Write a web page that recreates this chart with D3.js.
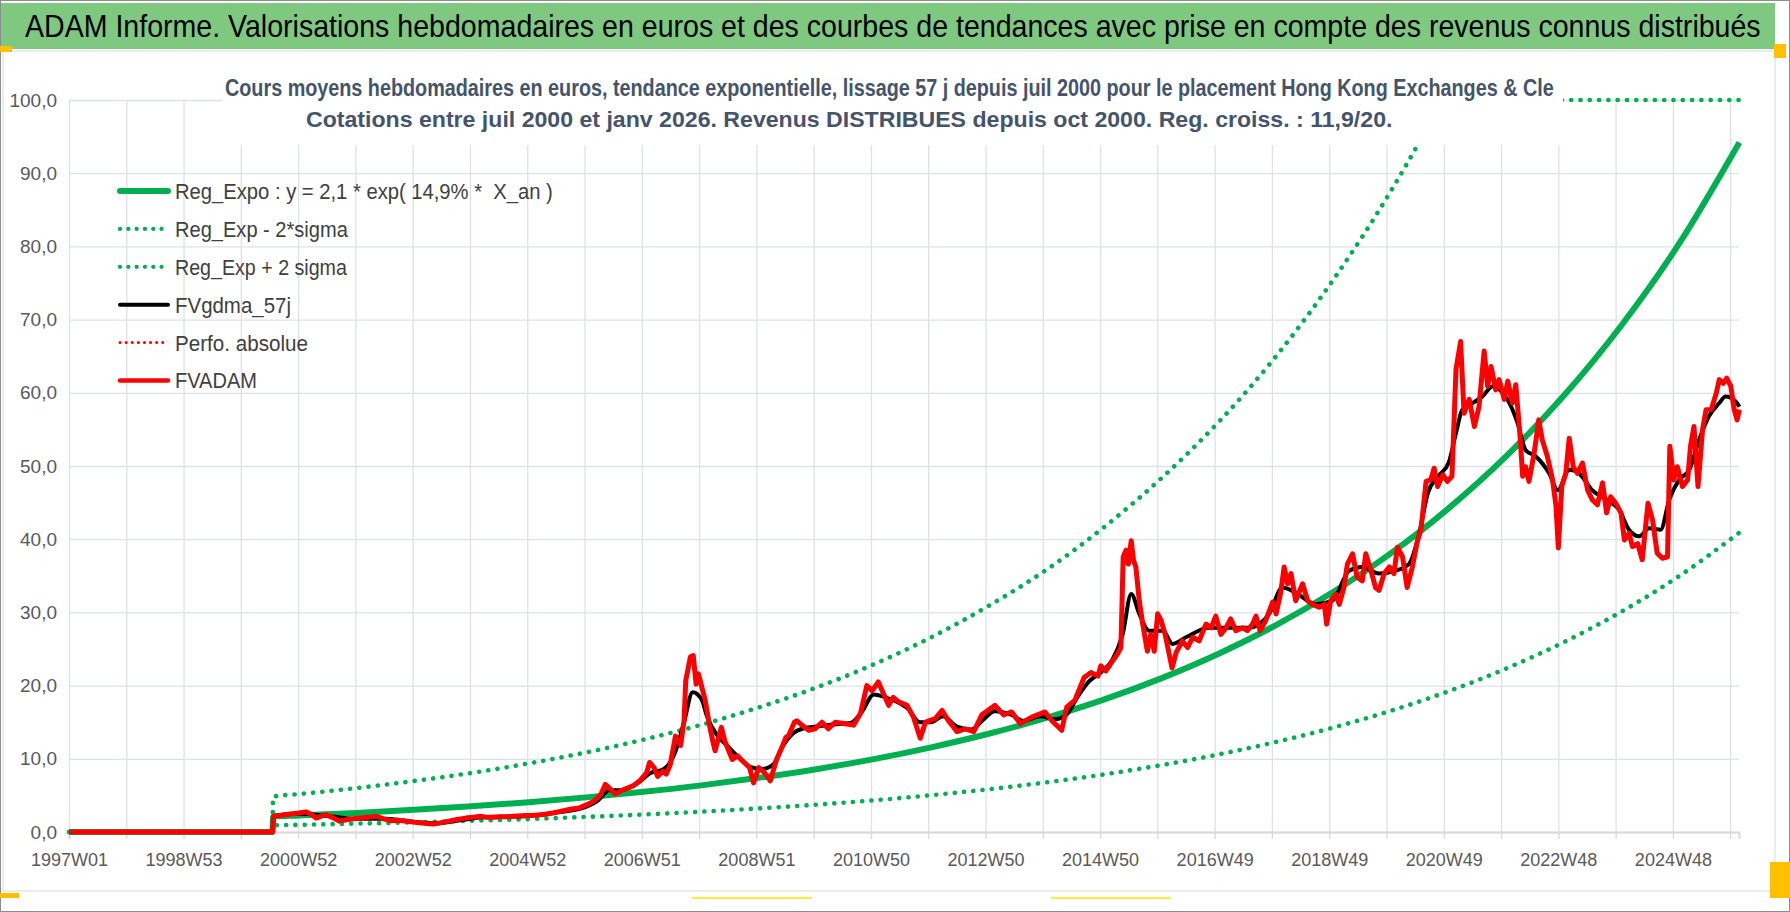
<!DOCTYPE html>
<html>
<head>
<meta charset="utf-8">
<script src="https://cdn.jsdelivr.net/npm/d3@7"></script>
<style>
  body { margin: 0; background: #fff; }
  text { font-family: "Liberation Sans", Arial, sans-serif; }
</style>
</head>
<body>
<svg id="chart"></svg>
<script>
let width = 1790
let height = 912

let titleText = "ADAM Informe. Valorisations hebdomadaires en euros et des courbes de tendances avec prise en compte des revenus connus distribués"
let subtitleLines = [
  "Cours moyens hebdomadaires en euros, tendance exponentielle, lissage 57 j depuis juil 2000 pour le placement Hong Kong Exchanges & Cle",
  "Cotations entre juil 2000 et janv 2026. Revenus DISTRIBUES depuis oct 2000. Reg. croiss. : 11,9/20."
]

// x categories : one tick every 52 weeks, one label every 104 weeks
let xTickLabels = ["1997W01", "1998W53", "2000W52", "2002W52", "2004W52", "2006W51", "2008W51",
  "2010W50", "2012W50", "2014W50", "2016W49", "2018W49", "2020W49", "2022W48", "2024W48"]
let nWeeks = 1517
let yTicks = [0, 10, 20, 30, 40, 50, 60, 70, 80, 90, 100]

let legendNames = ["Reg_Expo : y = 2,1 * exp( 14,9% *  X_an )", "Reg_Exp - 2*sigma", "Reg_Exp + 2 sigma",
  "FVgdma_57j", "Perfo. absolue", "FVADAM"]

// regression + bands (decimal years)
let regYears = [1997, 2000.54, 2000.55, 2001, 2002, 2003, 2004, 2005, 2006, 2007, 2008, 2009, 2010, 2011, 2012,
  2013, 2014, 2015, 2016, 2017, 2018, 2019, 2020, 2021, 2022, 2023, 2024, 2025, 2026.06]
let regValues = [0, 0, 2.1, 2.25, 2.61, 3.03, 3.51, 4.08, 4.73, 5.49, 6.37, 7.4, 8.58, 9.96, 11.57,
  13.42, 15.58, 18.08, 20.99, 24.36, 28.27, 32.82, 38.09, 44.21, 51.31, 59.56, 69.13, 80.23, 94.2]
let lowValues = [0, 0, 0.91, 0.98, 1.14, 1.32, 1.53, 1.77, 2.06, 2.39, 2.77, 3.22, 3.73, 4.33, 5.03,
  5.84, 6.78, 7.86, 9.13, 10.6, 12.3, 14.28, 16.57, 19.23, 22.32, 25.91, 30.07, 34.9, 40.9]
let highYears = [1997, 2000.54, 2000.55, 2001, 2002, 2003, 2004, 2005, 2006, 2007, 2008, 2009, 2010, 2011, 2012,
  2013, 2014, 2015, 2016, 2017, 2018, 2019, 2020, 2020.5, 2020.88, 2026.06]
let highValues = [0, 0, 4.83, 5.18, 6.0, 6.97, 8.07, 9.38, 10.88, 12.63, 14.65, 17.02, 19.73, 22.9, 26.6,
  30.9, 35.8, 41.6, 48.3, 56.0, 65.0, 75.5, 87.6, 94.4, 100, 100]

// FVADAM (red)
let fvYears = [1997, 2000.54, 2000.56, 2000.7, 2000.85, 2001.0, 2001.12, 2001.22, 2001.3, 2001.4, 2001.46, 2001.58,
  2001.7, 2001.86, 2002.05, 2002.2, 2002.35, 2002.47, 2002.6, 2002.72, 2002.85, 2002.98, 2003.1, 2003.22, 2003.34,
  2003.46, 2003.59, 2003.75, 2003.9, 2004.02, 2004.15, 2004.28, 2004.4, 2004.52, 2004.64, 2004.8, 2004.95, 2005.1,
  2005.26, 2005.42, 2005.57, 2005.72, 2005.88, 2006.0, 2006.13, 2006.25, 2006.33, 2006.4, 2006.5, 2006.62, 2006.81,
  2006.93, 2007.05, 2007.1, 2007.18, 2007.24, 2007.33, 2007.39, 2007.46, 2007.55, 2007.64, 2007.7, 2007.73, 2007.81,
  2007.86, 2007.91, 2007.95, 2008.01, 2008.07, 2008.14, 2008.2, 2008.24, 2008.35, 2008.41, 2008.54, 2008.63, 2008.72,
  2008.84, 2008.91, 2009.0, 2009.1, 2009.2, 2009.31, 2009.4, 2009.47, 2009.52, 2009.62, 2009.66, 2009.75, 2009.87,
  2009.98, 2010.1, 2010.21, 2010.33, 2010.5, 2010.65, 2010.77, 2010.88, 2010.97, 2011.08, 2011.17, 2011.26, 2011.34,
  2011.43, 2011.58, 2011.69, 2011.81, 2011.9, 2012.07, 2012.19, 2012.3, 2012.45, 2012.59, 2012.74, 2012.88, 2013.11,
  2013.26, 2013.4, 2013.55, 2013.75, 2013.98, 2014.1, 2014.27, 2014.36, 2014.5, 2014.66, 2014.78, 2014.9, 2014.95,
  2015.04, 2015.16, 2015.24, 2015.3, 2015.34, 2015.39, 2015.43, 2015.48, 2015.52, 2015.56, 2015.62, 2015.68, 2015.76,
  2015.82, 2015.88, 2015.94, 2016.0, 2016.07, 2016.14, 2016.19, 2016.26, 2016.37, 2016.46, 2016.55, 2016.66, 2016.78,
  2016.87, 2016.95, 2017.04, 2017.13, 2017.21, 2017.3, 2017.42, 2017.5, 2017.59, 2017.65, 2017.72, 2017.82, 2017.94,
  2018.0, 2018.08, 2018.14, 2018.2, 2018.26, 2018.34, 2018.46, 2018.55, 2018.63, 2018.75, 2018.84, 2018.88, 2018.95,
  2019.04, 2019.1, 2019.18, 2019.24, 2019.33, 2019.41, 2019.5, 2019.56, 2019.65, 2019.73, 2019.79, 2019.88, 2019.97,
  2020.05, 2020.11, 2020.2, 2020.28, 2020.37, 2020.46, 2020.52, 2020.61, 2020.69, 2020.75, 2020.81, 2020.9, 2020.98,
  2021.06, 2021.13, 2021.21, 2021.27, 2021.36, 2021.45, 2021.53, 2021.62, 2021.68, 2021.74, 2021.82, 2021.88, 2021.97,
  2022.03, 2022.11, 2022.17, 2022.24, 2022.29, 2022.34, 2022.4, 2022.49, 2022.57, 2022.63, 2022.72, 2022.81, 2022.87,
  2022.91, 2022.97, 2023.04, 2023.1, 2023.17, 2023.24, 2023.33, 2023.42, 2023.5, 2023.59, 2023.68, 2023.75, 2023.82,
  2023.91, 2024.0, 2024.06, 2024.14, 2024.2, 2024.29, 2024.37, 2024.47, 2024.55, 2024.63, 2024.72, 2024.81, 2024.85,
  2024.92, 2024.98, 2025.07, 2025.16, 2025.21, 2025.27, 2025.34, 2025.42, 2025.48, 2025.57, 2025.66, 2025.71, 2025.78,
  2025.84, 2025.91, 2025.97, 2026.02, 2026.06]
let fvValues = [0, 0, 2.15, 2.3, 2.45, 2.6, 2.75, 2.4, 1.9, 2.2, 2.4, 2.0,
  1.5, 1.7, 1.9, 2.0, 2.15, 1.8, 1.55, 1.6, 1.5, 1.35, 1.25, 1.15, 1.1,
  1.25, 1.45, 1.7, 1.9, 2.0, 2.15, 2.0, 2.0, 2.1, 2.1, 2.2, 2.25, 2.3,
  2.4, 2.6, 2.85, 3.1, 3.3, 3.7, 4.2, 5.1, 6.5, 6.0, 5.2, 5.7, 6.3,
  7.0, 8.1, 9.5, 8.8, 7.6, 8.3, 7.9, 9.2, 13.1, 11.8, 15.2, 20.7, 23.9,
  24.1, 20.2, 21.6, 19.8, 17.9, 14.7, 12.4, 11.1, 14.3, 12.4, 9.9, 10.4, 9.7,
  8.8, 6.7, 8.8, 8.1, 7.0, 9.9, 11.5, 12.9, 13.2, 15.0, 15.2, 14.6, 13.9,
  14.1, 15.0, 14.1, 15.0, 14.8, 14.6, 16.2, 20.0, 19.3, 20.5, 18.9, 17.3, 18.4,
  17.8, 17.3, 15.7, 12.8, 15.0, 15.5, 16.6, 15.2, 13.7, 14.1, 13.7, 16.0, 17.3,
  16.0, 16.4, 14.8, 15.7, 16.4, 15.2, 13.9, 17.1, 18.0, 21.1, 21.8, 21.3, 22.7,
  22.0, 23.4, 24.3, 25.2, 37.6, 38.5, 36.6, 39.8, 37.1, 36.2, 31.6, 28.4, 24.7,
  27.0, 24.7, 29.8, 28.9, 27.0, 24.3, 22.4, 24.5, 26.1, 25.2, 26.6, 26.1, 28.4,
  27.9, 29.5, 27.0, 27.9, 29.1, 27.5, 27.9, 27.5, 28.4, 29.5, 27.5, 28.9, 31.4,
  29.8, 32.7, 36.2, 33.9, 35.3, 31.6, 33.9, 31.6, 31.1, 30.7, 31.1, 28.4, 31.6,
  32.5, 31.1, 33.4, 36.6, 38.0, 34.8, 34.3, 38.0, 35.7, 33.4, 33.0, 35.3, 36.2,
  35.3, 38.9, 37.6, 33.4, 36.2, 39.8, 41.3, 47.9, 48.1, 49.7, 47.2, 48.8, 47.9,
  48.6, 63.2, 67.0, 57.2, 59.1, 55.4, 58.1, 65.7, 60.9, 63.6, 60.4, 61.8, 59.1,
  61.6, 58.6, 61.1, 54.5, 48.6, 49.9, 47.9, 51.8, 56.3, 53.6, 51.3, 48.1, 44.5,
  38.8, 47.2, 49.0, 53.8, 49.9, 49.0, 50.4, 46.7, 45.4, 44.7, 47.7, 43.6, 45.8,
  44.9, 43.6, 39.9, 40.8, 39.0, 39.4, 37.2, 44.9, 42.6, 38.1, 37.4, 37.6, 52.7,
  48.1, 49.9, 47.2, 48.1, 52.7, 55.4, 47.2, 55.0, 57.7, 57.7, 60.0, 61.8, 61.3,
  62.0, 60.9, 57.7, 56.3, 57.7]

// FVgdma_57j (black, smoothed)
let gdmaYears = [1997, 2000.54, 2000.56, 2001.0, 2001.5, 2002.0, 2002.5, 2003.0, 2003.4, 2003.8, 2004.2, 2004.6,
  2005.0, 2005.5, 2005.9, 2006.2, 2006.4, 2006.6, 2006.9, 2007.1, 2007.35, 2007.55, 2007.7, 2007.85, 2008.0, 2008.1,
  2008.25, 2008.45, 2008.65, 2008.85, 2009.05, 2009.25, 2009.4, 2009.6, 2009.8, 2010.0, 2010.3, 2010.6, 2010.8,
  2011.0, 2011.2, 2011.4, 2011.6, 2011.8, 2012.0, 2012.2, 2012.45, 2012.7, 2012.9, 2013.1, 2013.4, 2013.6, 2013.9,
  2014.15, 2014.35, 2014.55, 2014.75, 2014.95, 2015.15, 2015.33, 2015.48, 2015.62, 2015.79, 2016.03, 2016.2, 2016.43,
  2016.84, 2017.2, 2017.53, 2017.88, 2018.11, 2018.34, 2018.69, 2018.98, 2019.27, 2019.5, 2019.79, 2020.08, 2020.31,
  2020.49, 2020.64, 2020.82, 2021.0, 2021.13, 2021.24, 2021.42, 2021.59, 2021.77, 2021.94, 2022.06, 2022.2, 2022.34,
  2022.52, 2022.75, 2022.9, 2023.1, 2023.27, 2023.5, 2023.74, 2023.97, 2024.14, 2024.32, 2024.49, 2024.69, 2024.84,
  2025.01, 2025.19, 2025.36, 2025.53, 2025.71, 2025.82, 2026.0, 2026.06]
let gdmaValues = [0, 0, 2.2, 2.5, 2.2, 1.8, 1.8, 1.4, 1.2, 1.6, 2.0, 2.1,
  2.2, 2.7, 3.2, 4.3, 5.7, 5.7, 6.7, 8.0, 8.6, 11.0, 15.0, 19.1, 18.2, 15.8,
  13.5, 11.8, 10.2, 8.9, 8.6, 9.2, 11.5, 13.5, 14.2, 14.4, 14.7, 14.9, 16.5,
  18.8, 18.4, 17.8, 16.8, 15.0, 15.0, 15.8, 14.4, 14.0, 15.3, 16.5, 16.0, 15.2, 15.8,
  15.4, 16.0, 18.5, 20.6, 21.8, 23.5, 27.0, 32.5, 29.8, 27.5, 27.5, 25.7, 26.6,
  27.9, 27.9, 27.9, 29.8, 33.4, 32.7, 31.1, 31.6, 35.7, 36.2, 35.3, 35.7, 36.6,
  40.8, 46.3, 48.6, 50.4, 54.5, 57.7, 58.6, 59.5, 60.9, 60.0, 58.6, 55.9, 52.2,
  51.3, 49.0, 46.7, 49.5, 49.0, 46.7, 45.4, 44.0, 41.3, 40.4, 41.5, 41.3, 45.4,
  48.1, 49.5, 53.6, 56.8, 58.6, 59.5, 58.8, 58.1]

let svg = d3.select("#chart")
  .attr("width", width)
  .attr("height", height)

let margin = { left: 69, right: 1739, top: 100, bottom: 832 }

let x = d3.scaleLinear()
  .domain([0, nWeeks - 1])
  .range([margin.left, margin.right])

let y = d3.scaleLinear()
  .domain([0, 100])
  .range([margin.bottom, margin.top])

let weekOf = (yr) => (yr - 1997) * 52.18

// squeeze a text horizontally to a given width (Calibri-like narrow look)
let squeeze = (sel, w) => sel.each(function () {
  let len = this.getComputedTextLength()
  let x0 = +(d3.select(this).attr("x") || 0)
  d3.select(this).attr("transform", `translate(${x0}, 0) scale(${w / len}, 1) translate(${-x0}, 0)`)
})

// frame, title bar
svg.append("rect")
  .attr("x", 0.5).attr("y", 0.5)
  .attr("width", width - 1).attr("height", height - 1)
  .attr("fill", "#fff")
  .attr("stroke", "#8c8c8c")

svg.append("rect")
  .attr("x", 3).attr("y", 51)
  .attr("width", 1772).attr("height", 840)
  .attr("fill", "#fff")
  .attr("stroke", "#d9d9d9")

svg.append("rect")
  .attr("x", 1).attr("y", 3)
  .attr("width", 1774).attr("height", 46)
  .attr("fill", "#7ec87f")

svg.append("text")
  .attr("x", 25).attr("y", 37)
  .attr("font-size", 31)
  .attr("fill", "#000")
  .text(titleText)
  .call(squeeze, 1736)

// gridlines
let gridV = svg.append("g")
  .attr("transform", `translate(0, ${margin.bottom})`)
  .call(d3.axisBottom(x)
    .tickValues(d3.range(0, nWeeks, 52))
    .tickSize(-(margin.bottom - margin.top))
    .tickFormat(""))
gridV.select(".domain").remove()
gridV.selectAll("line").attr("stroke", "#dde1e8").attr("stroke-width", 1.3)

let yAxis = svg.append("g")
  .attr("transform", `translate(${margin.left}, 0)`)
  .call(d3.axisLeft(y)
    .tickValues(yTicks)
    .tickSize(-(margin.right - margin.left))
    .tickPadding(12)
    .tickFormat((d) => d3.format(".1f")(d).replace(".", ",")))
yAxis.select(".domain").remove()
yAxis.selectAll("line").attr("stroke", "#dde1e8").attr("stroke-width", 1.3)
yAxis.selectAll("text")
  .attr("font-size", 19)
  .attr("fill", "#595959")
  .style("font-family", "'Liberation Sans', sans-serif")

let xAxis = svg.append("g")
  .attr("transform", `translate(0, ${margin.bottom})`)
  .call(d3.axisBottom(x)
    .tickValues(d3.range(0, nWeeks, 52))
    .tickSize(7)
    .tickPadding(14)
    .tickFormat((d, i) => i % 2 === 0 ? xTickLabels[i / 2] : ""))
xAxis.select(".domain").attr("stroke", "#d9d9d9").attr("stroke-width", 2)
xAxis.selectAll("line").attr("stroke", "#d9d9d9").attr("stroke-width", 1.3)
xAxis.selectAll("text")
  .attr("font-size", 18)
  .attr("fill", "#595959")
  .style("font-family", "'Liberation Sans', sans-serif")

// series
svg.append("clipPath").attr("id", "plot-clip")
  .append("rect")
  .attr("x", margin.left - 4).attr("y", margin.top - 4)
  .attr("width", margin.right - margin.left + 8)
  .attr("height", margin.bottom - margin.top + 8)

let plot = svg.append("g").attr("clip-path", "url(#plot-clip)")

let line = d3.line()
  .x((d) => x(weekOf(d[0])))
  .y((d) => y(d[1]))
  .curve(d3.curveMonotoneX)

let rough = d3.line()
  .x((d) => x(weekOf(d[0])))
  .y((d) => y(d[1]))
  .curve(d3.curveLinear)

let pairs = (xs, vs) => xs.map((v, i) => [v, vs[i]])

plot.append("path")
  .attr("d", line(pairs(highYears, highValues)))
  .attr("fill", "none")
  .attr("stroke", "#00b050")
  .attr("stroke-width", 4.6)
  .attr("stroke-linecap", "round")
  .attr("stroke-dasharray", "0.1 9.2")

plot.append("path")
  .attr("d", line(pairs(regYears, lowValues)))
  .attr("fill", "none")
  .attr("stroke", "#00b050")
  .attr("stroke-width", 4.6)
  .attr("stroke-linecap", "round")
  .attr("stroke-dasharray", "0.1 9.2")

plot.append("path")
  .attr("d", line(pairs(regYears, regValues)))
  .attr("fill", "none")
  .attr("stroke", "#00b050")
  .attr("stroke-width", 6)

plot.append("path")
  .attr("d", line(pairs(gdmaYears, gdmaValues)))
  .attr("fill", "none")
  .attr("stroke", "#000")
  .attr("stroke-width", 4)
  .attr("stroke-linejoin", "round")

plot.append("path")
  .attr("d", rough(pairs(fvYears, fvValues)))
  .attr("fill", "none")
  .attr("stroke", "#ff0000")
  .attr("stroke-width", 5)
  .attr("stroke-linejoin", "round")

// subtitle box (white, sits over the top of the plot)
svg.append("rect")
  .attr("x", 222).attr("y", 62)
  .attr("width", 1341).attr("height", 83)
  .attr("fill", "#fff")

svg.append("text")
  .attr("x", 225).attr("y", 96)
  .attr("font-size", 23)
  .attr("font-weight", "bold")
  .attr("fill", "#44546a")
  .text(subtitleLines[0])
  .call(squeeze, 1330)

svg.append("text")
  .attr("x", 306).attr("y", 127)
  .attr("font-size", 23)
  .attr("font-weight", "bold")
  .attr("fill", "#44546a")
  .text(subtitleLines[1])
  .call(squeeze, 1087)

// legend
let legendStyles = [
  { color: "#00b050", width: 6, dash: null, textW: 378 },
  { color: "#00b050", width: 4.2, dash: "0.1 8.2", textW: 173 },
  { color: "#00b050", width: 4.2, dash: "0.1 8.2", textW: 172 },
  { color: "#000", width: 4, dash: null, textW: 116 },
  { color: "#ff0000", width: 3, dash: "0.1 6", textW: 133 },
  { color: "#ff0000", width: 4.5, dash: null, textW: 82 }
]

let legend = svg.append("g")
  .selectAll("g")
  .data(legendNames)
  .enter()
  .append("g")
  .attr("transform", (d, i) => `translate(0, ${191 + i * 37.9})`)

legend.append("line")
  .attr("x1", 120).attr("x2", 168)
  .attr("stroke", (d, i) => legendStyles[i].color)
  .attr("stroke-width", (d, i) => legendStyles[i].width)
  .attr("stroke-linecap", "round")
  .attr("stroke-dasharray", (d, i) => legendStyles[i].dash)

legend.append("text")
  .attr("x", 175)
  .attr("dy", "0.36em")
  .attr("font-size", 22)
  .attr("fill", "#404040")
  .style("white-space", "pre")
  .text((d) => d)
  .each(function (d, i) { d3.select(this).call(squeeze, legendStyles[i].textW) })

// excel selection handles
let handles = [[0, 46, 12, 6], [1774, 44, 12, 14], [0, 893, 19, 5], [1770, 862, 20, 36]]
svg.selectAll(".handle")
  .data(handles)
  .enter()
  .append("rect")
  .attr("x", (d) => d[0]).attr("y", (d) => d[1])
  .attr("width", (d) => d[2]).attr("height", (d) => d[3])
  .attr("fill", "#ffc000")

let marks = [[692, 812], [1051, 1171]]
svg.selectAll(".mark")
  .data(marks)
  .enter()
  .append("line")
  .attr("x1", (d) => d[0]).attr("x2", (d) => d[1])
  .attr("y1", 898).attr("y2", 898)
  .attr("stroke", "#ffeb3b")
  .attr("stroke-width", 2)
</script>
</body>
</html>
